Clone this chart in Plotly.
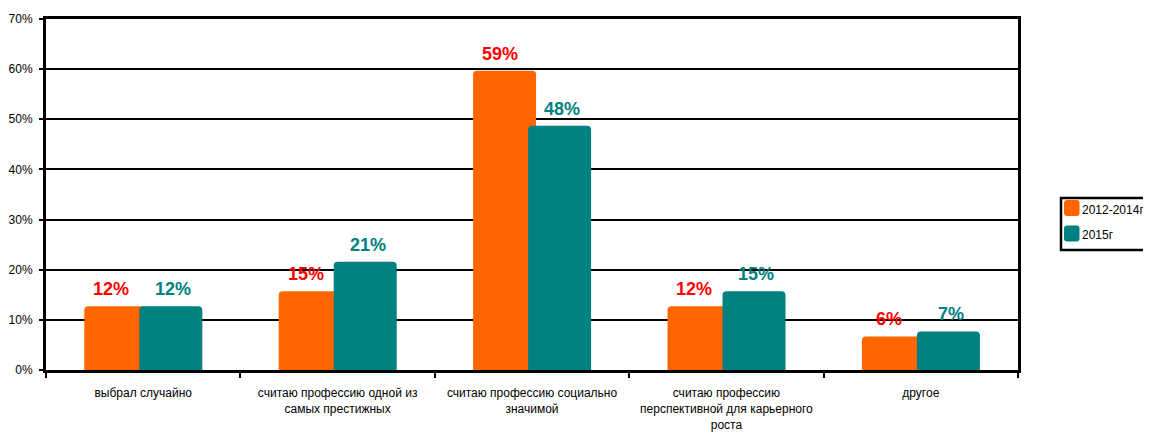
import plotly.graph_objects as go

categories = [
    "выбрал случайно",
    "считаю профессию одной из<br>самых престижных",
    "считаю профессию социально<br>значимой",
    "считаю профессию<br>перспективной для карьерного<br>роста",
    "другое",
]
series_names = ["2012-2014г", "2015г"]
values_2012_2014 = [12.7, 15.7, 59.7, 12.7, 6.7]
values_2015 = [12.7, 21.6, 48.7, 15.7, 7.7]
labels_2012_2014 = ["12%", "15%", "59%", "12%", "6%"]
labels_2015 = ["12%", "21%", "48%", "15%", "7%"]
y_ticks = [0, 10, 20, 30, 40, 50, 60, 70]

bar_colors = ["#FF6600", "#008080"]
label_colors = ["#FF0000", "#008080"]
bar_width = 0.324
offsets = [-0.303, -0.02]

# page is rendered with an 8px body margin
PAGE_OFF = 8
WIN_W, WIN_H = 1151, 438
W, H = WIN_W - PAGE_OFF, WIN_H - PAGE_OFF
PL, PT, PR, PB = 46, 19, 1018, 370  # desired plot area in window pixels
ml = PL - PAGE_OFF
mt = PT - PAGE_OFF
mr = (W + PAGE_OFF) - PR
mb = (H + PAGE_OFF) - PB


def px_x(px):
    return (px - PL) / (PR - PL)


def px_y(py):
    return (PB - py) / (PB - PT)


fig = go.Figure()
all_vals = [values_2012_2014, values_2015]
all_labels = [labels_2012_2014, labels_2015]
for i in range(2):
    fig.add_trace(go.Bar(
        x=categories, y=all_vals[i], name=series_names[i],
        marker=dict(color=bar_colors[i], line=dict(width=0), cornerradius=4),
        width=bar_width, offset=offsets[i], showlegend=False,
    ))

label_shift = [-32, 30]
for i in range(2):
    for c, v, t in zip(categories, all_vals[i], all_labels[i]):
        fig.add_annotation(
            x=c, y=v, xref="x", yref="y", text=t, showarrow=False,
            xshift=label_shift[i], yshift=17, yanchor="middle",
            font=dict(family="Liberation Sans, Arial, sans-serif",
                      size=18, color=label_colors[i], weight="bold"),
        )

# legend box drawn manually (compact like the original)
LX = 1061
fig.add_shape(type="rect", xref="paper", yref="paper",
              x0=px_x(LX), x1=px_x(LX + 100), y0=px_y(250), y1=px_y(198),
              line=dict(color="black", width=2.5), fillcolor="white", layer="above")
sq_tops = [200, 225.5]
for i, name in enumerate(series_names):
    top = sq_tops[i]
    x0, x1, y0, y1 = LX + 3, LX + 18.5, top, top + 16
    r = 3
    path = (f"M {px_x(x0 + r)} {px_y(y0)} L {px_x(x1 - r)} {px_y(y0)} "
            f"Q {px_x(x1)} {px_y(y0)} {px_x(x1)} {px_y(y0 + r)} "
            f"L {px_x(x1)} {px_y(y1 - r)} Q {px_x(x1)} {px_y(y1)} {px_x(x1 - r)} {px_y(y1)} "
            f"L {px_x(x0 + r)} {px_y(y1)} Q {px_x(x0)} {px_y(y1)} {px_x(x0)} {px_y(y1 - r)} "
            f"L {px_x(x0)} {px_y(y0 + r)} Q {px_x(x0)} {px_y(y0)} {px_x(x0 + r)} {px_y(y0)} Z")
    fig.add_shape(type="path", xref="paper", yref="paper", path=path,
                  fillcolor=bar_colors[i], line=dict(width=0), layer="above")
    fig.add_annotation(x=px_x(LX + 19), y=px_y(top + 10), xref="paper", yref="paper",
                       text=name, showarrow=False, xanchor="left", yanchor="middle",
                       font=dict(size=12, color="black"))

fig.update_layout(
    width=W, height=H,
    margin=dict(l=ml, r=mr, t=mt, b=mb, pad=0, autoexpand=False),
    paper_bgcolor="white", plot_bgcolor="white",
    barmode="overlay",
    font=dict(family="Liberation Sans, Arial, sans-serif", size=12, color="black"),
    showlegend=False,
    xaxis=dict(
        type="category", showgrid=False, automargin=False,
        showline=True, linecolor="black", linewidth=3, mirror=True,
        ticks="outside", tickson="boundaries", ticklen=5, tickwidth=2, tickcolor="black",
        tickfont=dict(size=12), ticklabelstandoff=10,
        range=[-0.5, len(categories) - 0.5],
    ),
    yaxis=dict(
        range=[0, 70], tickvals=y_ticks, ticktext=[f"{t}%" for t in y_ticks],
        automargin=False,
        showgrid=True, gridcolor="black", gridwidth=2,
        showline=True, linecolor="black", linewidth=3, mirror=True,
        ticks="outside", ticklen=4, tickwidth=2, tickcolor="black",
        tickfont=dict(size=12), zeroline=False, ticklabelstandoff=4,
    ),
)

fig.write_html("out.html")
